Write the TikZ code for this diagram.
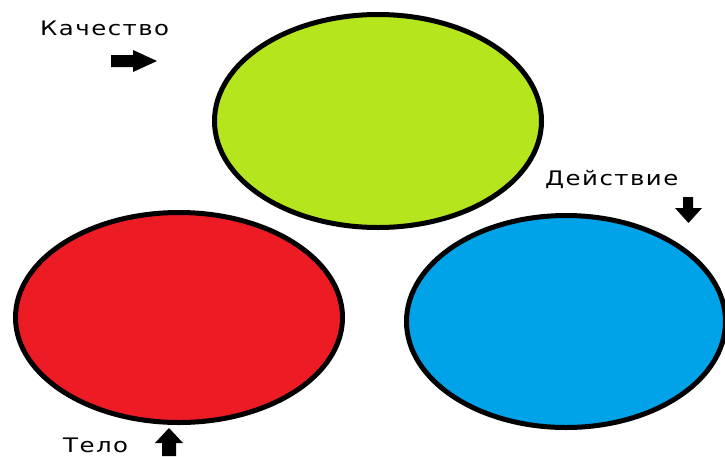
\documentclass[tikz,border=0pt]{standalone}
\usepackage{fontspec}
\setmainfont{DejaVu Sans}
\newfontfamily\spacedsans[LetterSpace=6]{DejaVu Sans}
\usetikzlibrary{shapes.geometric}
\definecolor{paintgreen}{HTML}{B5E61D}
\definecolor{paintred}{HTML}{ED1C24}
\definecolor{paintblue}{HTML}{00A2E8}
\newcommand{\widetext}[1]{\scalebox{1.22}[1]{#1}}
\tikzset{
  blob/.style={ellipse, draw=black, line width=5pt, inner sep=0pt},
  lbl/.style={anchor=base west, inner sep=0pt, font=\spacedsans\fontsize{20}{24}\selectfont},
  blockarrow/.style={fill=black, draw=none}
}
\begin{document}
\begin{tikzpicture}[x=1pt,y=-1pt]
\useasboundingbox (0,0) rectangle (725,456);
\clip (0,0) rectangle (725,456);
\node[blob, fill=paintgreen, minimum width=327pt, minimum height=213pt] (quality) at (378,121) {};
\node[blob, fill=paintred, minimum width=327pt, minimum height=210pt] (body) at (179,317.5) {};
\node[blob, fill=paintblue, minimum width=319pt, minimum height=212pt] (action) at (566,321.5) {};
\node[lbl] (tq) at (40,35) {\widetext{Качество}};
\node[lbl] (ta) at (545,185) {\widetext{Действие}};
\node[lbl] (tb) at (63,452) {\widetext{Тело}};
% right arrow
\fill[blockarrow] (111,55) -- (133,55) -- (133,50) -- (157,61) -- (133,72) -- (133,67) -- (111,67) -- cycle;
% down arrow
\fill[blockarrow] (683,197) -- (693,197) -- (693,208) -- (702,208) -- (688.5,223) -- (675,208) -- (683,208) -- cycle;
% up arrow
\fill[blockarrow] (162,456) -- (162,443) -- (155,443) -- (169,428) -- (183,443) -- (176,443) -- (176,456) -- cycle;
\end{tikzpicture}
\end{document}
